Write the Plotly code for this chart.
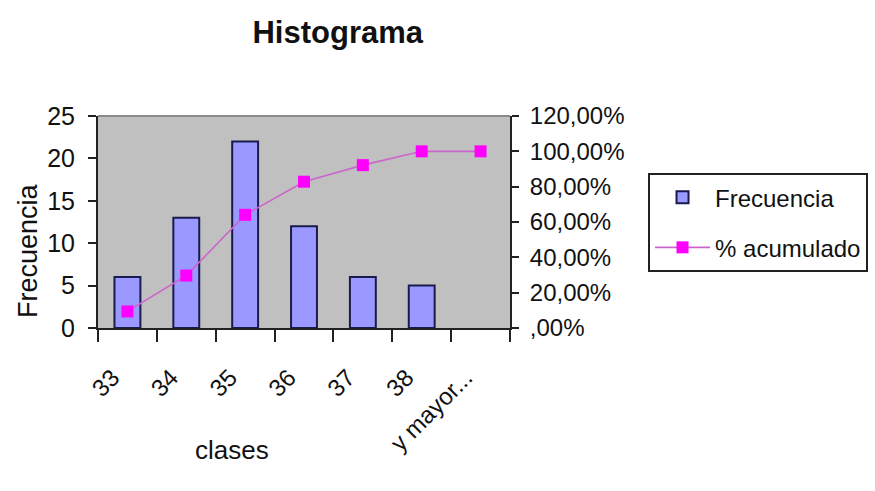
import plotly.graph_objects as go

# Histogram classes and their counts
clases = ["33", "34", "35", "36", "37", "38", "y mayor..."]
frecuencia = [6, 13, 22, 12, 6, 5, 0]
# Cumulative percentage (fraction of the total count)
acumulado = [0.09375, 0.296875, 0.640625, 0.828125, 0.921875, 1.0, 1.0]

# Left and right axis ticks
frec_ticks = [0, 5, 10, 15, 20, 25]
pct_ticks = [0, 0.2, 0.4, 0.6, 0.8, 1.0, 1.2]
pct_labels = [",00%", "20,00%", "40,00%", "60,00%", "80,00%", "100,00%", "120,00%"]

FONT = "Liberation Sans, Arial, sans-serif"

# Empty classes get no outline so nothing is drawn for them
bar_outline = [2 if v > 0 else 0 for v in frecuencia]

fig = go.Figure()

fig.add_trace(go.Bar(
    x=clases, y=frecuencia, name="Frecuencia",
    marker=dict(color="#9999ff", line=dict(color="#1a1a4d", width=bar_outline)),
    width=0.44, legendgroup="a",
))

fig.add_trace(go.Scatter(
    x=clases, y=acumulado, name="% acumulado", yaxis="y2",
    mode="lines+markers",
    line=dict(color="#cc66cc", width=1.6),
    marker=dict(symbol="square", size=12, color="#ff00ff"),
    legendgroup="b",
))

fig.update_layout(
    width=875, height=491,
    margin=dict(l=98, r=365, t=116, b=163, autoexpand=False),
    paper_bgcolor="white",
    plot_bgcolor="#c0c0c0",
    font=dict(family=FONT, size=24, color="#111111"),
    showlegend=True,
    title=dict(
        text="<b>Histograma</b>", x=0.386, xanchor="center",
        y=0.935, yanchor="middle", xref="container", yref="container",
        font=dict(family=FONT, size=31, color="#111111"),
    ),
    xaxis=dict(
        type="category", range=[-0.5, 6.5],
        showline=True, linecolor="#222222", linewidth=2,
        ticks="outside", ticklen=12, tickwidth=2, tickcolor="#222222",
        tickson="boundaries", tickangle=-45,
        ticklabelstandoff=24, ticklabelshift=-15,
        showgrid=False, zeroline=False,
        tickfont=dict(family=FONT, size=24),
    ),
    yaxis=dict(
        range=[0, 25], tickvals=frec_ticks,
        showline=True, linecolor="#222222", linewidth=2,
        ticks="outside", ticklen=8, tickwidth=2, tickcolor="#222222",
        ticklabelstandoff=8,
        showgrid=False, zeroline=False,
        tickfont=dict(family=FONT, size=25),
    ),
    yaxis2=dict(
        range=[0, 1.2], overlaying="y", side="right",
        tickvals=pct_ticks, ticktext=pct_labels,
        showline=True, linecolor="#222222", linewidth=2,
        ticks="outside", ticklen=7, tickwidth=2, tickcolor="#222222",
        ticklabelstandoff=6,
        showgrid=False, zeroline=False,
        tickfont=dict(family=FONT, size=24),
    ),
    legend=dict(
        x=1.335, xanchor="left", y=0.731, yanchor="top",
        bgcolor="white", bordercolor="#222222", borderwidth=2,
        font=dict(family=FONT, size=24),
        itemwidth=55, tracegroupgap=16,
    ),
    bargap=0.56,
)

# Axis titles
fig.add_annotation(
    text="Frecuencia", xref="paper", yref="paper", x=-0.17, y=0.368,
    textangle=-90, showarrow=False, xanchor="center", yanchor="middle",
    font=dict(family=FONT, size=27),
)
fig.add_annotation(
    text="clases", xref="paper", yref="paper", x=0.325, y=-0.575,
    showarrow=False, xanchor="center", yanchor="middle",
    font=dict(family=FONT, size=26),
)

# Thin border along the top of the plot area
fig.add_shape(
    type="line", xref="paper", yref="paper", x0=0, x1=1, y0=1, y1=1,
    line=dict(color="#8a8a8a", width=2),
)

fig.write_html("out.html")
